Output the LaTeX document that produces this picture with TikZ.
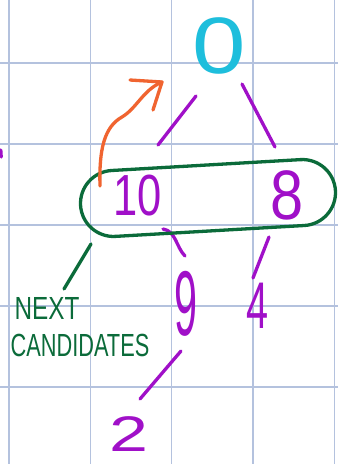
\documentclass[tikz,border=0pt]{standalone}
\usepackage{fontspec}
\newfontfamily\hand{Liberation Sans}
\usetikzlibrary{calc,shapes.misc}
\definecolor{gridblue}{HTML}{B4C2DE}
\definecolor{sky}{HTML}{1EBEDC}
\definecolor{plum}{HTML}{A010C8}
\definecolor{ember}{HTML}{F06430}
\definecolor{pine}{HTML}{0B6B3A}
\begin{document}
\begin{tikzpicture}[x=1pt,y=-1pt,
  gridline/.style={draw=gridblue,line width=1.3pt},
  ink/.style={line width=3.3pt,line cap=round,line join=round},
  edge/.style={ink,draw=plum},
  promo/.style={ink,draw=ember},
  grouping/.style={ink,draw=pine},
  digit/.style={inner sep=0pt,text=plum,font=\hand},
  note/.style={inner sep=0pt,text=pine,font=\hand\fontsize{32}{32}\selectfont}]
\useasboundingbox (0,0) rectangle (338,464);
\fill[white] (0,0) rectangle (338,464);
% squared paper
\foreach \x in {9,90.3,171.7,253,334.3} \draw[gridline] (\x,0) -- (\x,464);
\foreach \y in {63,144,225,306,387} \draw[gridline] (0,\y) -- (338,\y);

% heap values
\node[digit,text=sky] (n0) at (219,46) {\fontsize{80}{80}\selectfont\scalebox{1.2}[1]{0}};
\node[digit] (n10) at (138,196) {\fontsize{58}{58}\selectfont\scalebox{0.75}[1]{10}};
\node[digit] (n8) at (287,195) {\fontsize{70}{70}\selectfont\scalebox{0.85}[1]{8}};
\node[digit] (n9) at (186,304) {\fontsize{92}{92}\selectfont\scalebox{0.45}[1]{9}};
\node[digit] (n4) at (258,306) {\fontsize{66}{66}\selectfont\scalebox{0.6}[1]{4}};
\node[digit] (n2) at (129,434) {\fontsize{50}{50}\selectfont\scalebox{1.4}[1]{2}};

% tree edges
\draw[edge] ($(n0)+(-23,50)$) -- ($(n10)+(20,-51)$);
\draw[edge] ($(n0)+(23,38)$) -- ($(n8)+(-12,-48)$);
\draw[edge] ($(n10)+(25,33)$) .. controls (176,231) and (176,247) .. ($(n9)+(-1,-48)$);
\draw[edge] ($(n8)+(-18,42)$) -- ($(n4)+(-5,-28)$);
\draw[edge] ($(n9)+(-5,47)$) -- ($(n2)+(11,-35)$);
\draw[edge] (0.8,150) -- (1.2,157);

% candidate group and its label
\node[grouping,rounded rectangle,minimum width=262pt,minimum height=66pt,rotate=3.3] (grp) at (208,198) {};
\node[note] (nxt) at (47,308) {\scalebox{0.76}[1]{NEXT}};
\node[note] (cand) at (80,345) {\scalebox{0.68}[1]{CANDIDATES}};
\draw[grouping] ($(grp)+(-117,46)$) -- ($(nxt)+(17,-19)$);

% promotion arrow towards the root
\coordinate (tail) at ($(n10)+(-38,-10)$);
\coordinate (tip) at ($(n0)+(-57,36)$);
\draw[promo] (tail) .. controls (99,150) and (104,127) .. (122,117)
  .. controls (137,108) and (143,90) .. (tip);
\draw[promo] ($(tip)+(-32,-2)$) -- (tip) -- ($(tip)+(-9,28)$);
\end{tikzpicture}
\end{document}
